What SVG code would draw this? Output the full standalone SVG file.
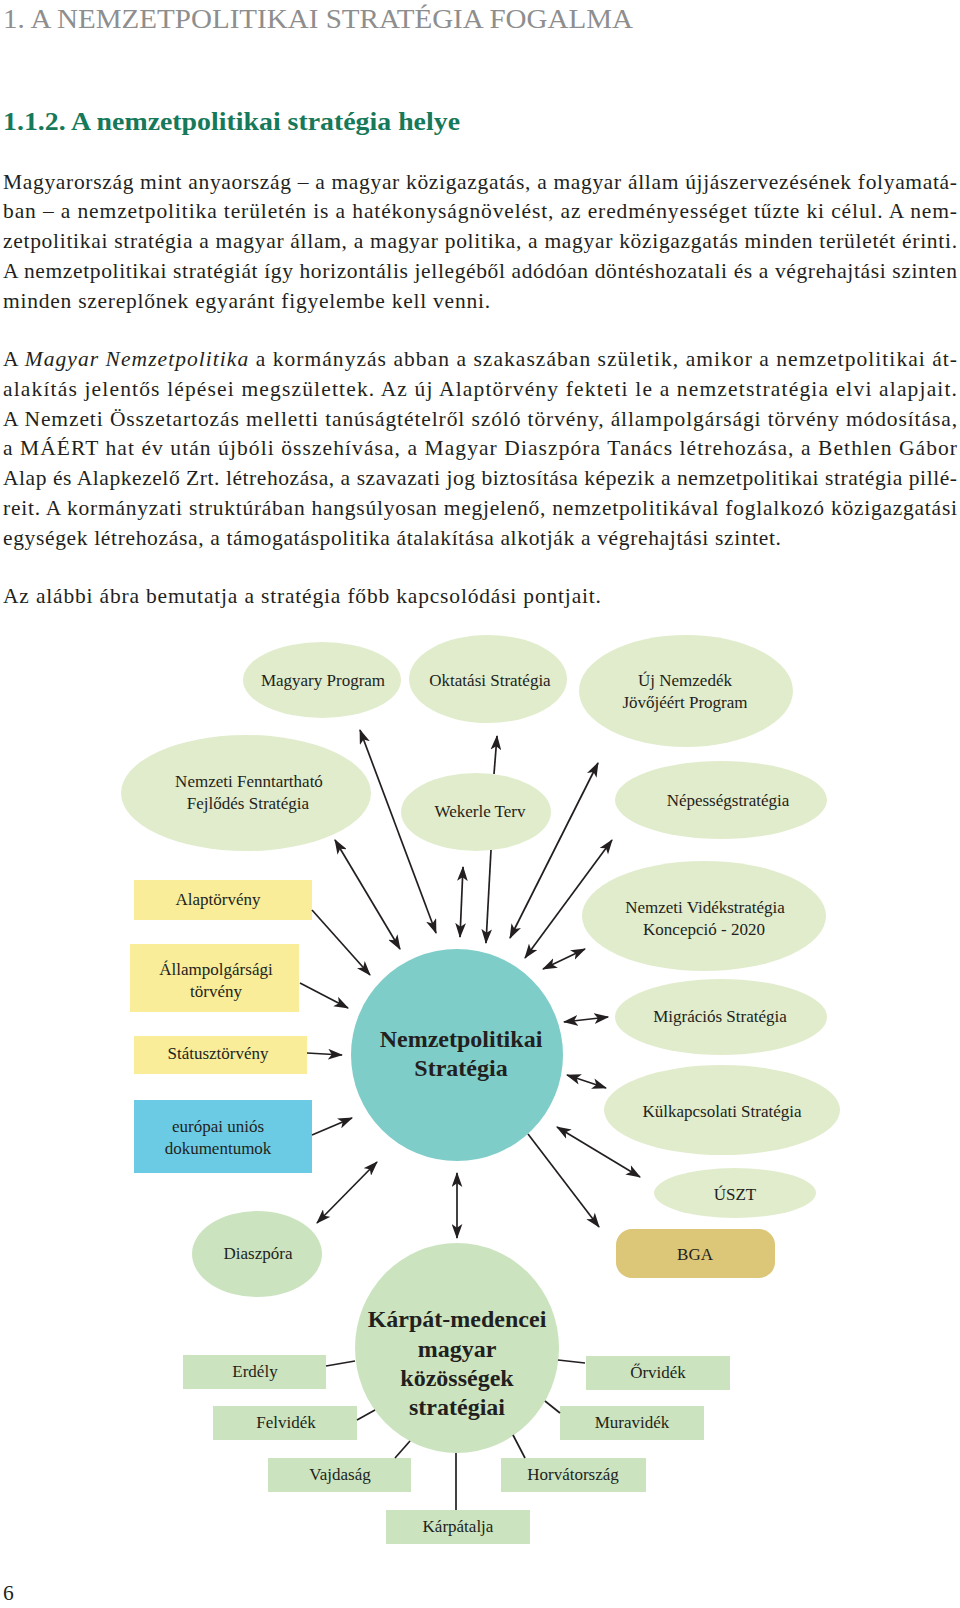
<svg xmlns="http://www.w3.org/2000/svg" width="960" height="1608" viewBox="0 0 960 1608">
<defs>
<marker id="ah" viewBox="0 0 14 10" refX="13" refY="5" markerWidth="15" markerHeight="11" markerUnits="userSpaceOnUse" orient="auto-start-reverse">
<path d="M0,0 L14,5 L0,10 L3.5,5 Z" fill="#231f20"/>
</marker>
</defs>
<style>
text{font-family:"Liberation Serif","Times New Roman",serif;fill:#231f20}
.title{font-size:27px;fill:#8e8e8e}
.head{font-size:25px;font-weight:bold;fill:#16795a}
.body{font-size:21.5px}
.lbl{font-size:17px;text-anchor:middle}
.big{font-size:24px;font-weight:bold;text-anchor:middle}
.pale{fill:#e1eccc}
.green{fill:#cbe4bf}
.yellow{fill:#f9ed99}
.blue{fill:#6ccbe4}
.gold{fill:#dcc677}
.teal{fill:#7fcdc9}
.c line{stroke:#231f20;stroke-width:1.7;fill:none}
.c .a2{marker-start:url(#ah);marker-end:url(#ah)}
.c .a1{marker-end:url(#ah)}
</style>
<rect width="960" height="1608" fill="#ffffff"/>
<g id="page-text">
<text class="title" x="3" y="28" textLength="630" lengthAdjust="spacingAndGlyphs">1. A NEMZETPOLITIKAI STRATÉGIA FOGALMA</text>
<text class="head" x="3" y="130" textLength="457" lengthAdjust="spacingAndGlyphs">1.1.2. A nemzetpolitikai stratégia helye</text>
<text class="body" x="3" y="189" textLength="954" lengthAdjust="spacing">Magyarország mint anyaország – a magyar közigazgatás, a magyar állam újjászervezésének folyamatá-</text>
<text class="body" x="3" y="218" textLength="954" lengthAdjust="spacing">ban – a nemzetpolitika területén is a hatékonyságnövelést, az eredményességet tűzte ki célul. A nem-</text>
<text class="body" x="3" y="248" textLength="954" lengthAdjust="spacing">zetpolitikai stratégia a magyar állam, a magyar politika, a magyar közigazgatás minden területét érinti.</text>
<text class="body" x="3" y="278" textLength="954" lengthAdjust="spacing">A nemzetpolitikai stratégiát így horizontális jellegéből adódóan döntéshozatali és a végrehajtási szinten</text>
<text class="body" x="3" y="308" textLength="487" lengthAdjust="spacing">minden szereplőnek egyaránt figyelembe kell venni.</text>
<text class="body" x="3" y="366" textLength="954" lengthAdjust="spacing">A <tspan font-style="italic">Magyar Nemzetpolitika</tspan> a kormányzás abban a szakaszában születik, amikor a nemzetpolitikai át-</text>
<text class="body" x="3" y="396" textLength="954" lengthAdjust="spacing">alakítás jelentős lépései megszülettek. Az új Alaptörvény fekteti le a nemzetstratégia elvi alapjait.</text>
<text class="body" x="3" y="426" textLength="954" lengthAdjust="spacing">A Nemzeti Összetartozás melletti tanúságtételről szóló törvény, állampolgársági törvény módosítása,</text>
<text class="body" x="3" y="455" textLength="954" lengthAdjust="spacing">a MÁÉRT hat év után újbóli összehívása, a Magyar Diaszpóra Tanács létrehozása, a Bethlen Gábor</text>
<text class="body" x="3" y="485" textLength="954" lengthAdjust="spacing">Alap és Alapkezelő Zrt. létrehozása, a szavazati jog biztosítása képezik a nemzetpolitikai stratégia pillé-</text>
<text class="body" x="3" y="515" textLength="954" lengthAdjust="spacing">reit. A kormányzati struktúrában hangsúlyosan megjelenő, nemzetpolitikával foglalkozó közigazgatási</text>
<text class="body" x="3" y="545" textLength="778" lengthAdjust="spacing">egységek létrehozása, a támogatáspolitika átalakítása alkotják a végrehajtási szintet.</text>
<text class="body" x="3" y="603" textLength="598" lengthAdjust="spacing">Az alábbi ábra bemutatja a stratégia főbb kapcsolódási pontjait.</text>
<text class="body" x="3" y="1600" font-size="22">6</text>
</g>
<g id="magyary"><ellipse class="pale" cx="322" cy="680" rx="79" ry="38"/><text class="lbl" x="323" y="686">Magyary Program</text></g>
<g id="oktatasi"><ellipse class="pale" cx="488" cy="679" rx="79" ry="44"/><text class="lbl" x="490" y="686">Oktatási Stratégia</text></g>
<g id="uj-nemzedek"><ellipse class="pale" cx="686" cy="691" rx="107" ry="56"/><text class="lbl" x="685" y="686">Új Nemzedék</text><text class="lbl" x="685" y="708">Jövőjéért Program</text></g>
<g id="nffs"><ellipse class="pale" cx="246" cy="793" rx="125" ry="58"/><text class="lbl" x="249" y="787">Nemzeti Fenntartható</text><text class="lbl" x="248" y="809">Fejlődés Stratégia</text></g>
<g id="wekerle"><ellipse class="pale" cx="476" cy="812" rx="75" ry="39"/><text class="lbl" x="480" y="817">Wekerle Terv</text></g>
<g id="nepesseg"><ellipse class="pale" cx="721" cy="800" rx="106" ry="39"/><text class="lbl" x="728" y="806">Népességstratégia</text></g>
<g id="videk"><ellipse class="pale" cx="704" cy="916" rx="122" ry="55"/><text class="lbl" x="705" y="913">Nemzeti Vidékstratégia</text><text class="lbl" x="704" y="935">Koncepció - 2020</text></g>
<g id="migracios"><ellipse class="pale" cx="721" cy="1017" rx="106" ry="38"/><text class="lbl" x="720" y="1022">Migrációs Stratégia</text></g>
<g id="kulkapcsolati"><ellipse class="pale" cx="722" cy="1110" rx="118" ry="45"/><text class="lbl" x="722" y="1117">Külkapcsolati Stratégia</text></g>
<g id="uszt"><ellipse class="pale" cx="735" cy="1193" rx="81" ry="25"/><text class="lbl" x="735" y="1200">ÚSZT</text></g>
<g id="bga"><rect class="gold" x="616" y="1229" width="159" height="49" rx="16"/><text class="lbl" x="695" y="1260">BGA</text></g>
<g id="diaszpora"><ellipse class="green" cx="257" cy="1254" rx="65" ry="43"/><text class="lbl" x="258" y="1259">Diaszpóra</text></g>
<g id="alaptorveny"><rect class="yellow" x="134" y="880" width="178" height="40"/><text class="lbl" x="218" y="905">Alaptörvény</text></g>
<g id="allampolgarsagi"><rect class="yellow" x="130" y="944" width="169" height="68"/><text class="lbl" x="216" y="975">Állampolgársági</text><text class="lbl" x="216" y="997">törvény</text></g>
<g id="statusztorveny"><rect class="yellow" x="134" y="1036" width="173" height="38"/><text class="lbl" x="218" y="1059">Státusztörvény</text></g>
<g id="europai"><rect class="blue" x="134" y="1100" width="178" height="73"/><text class="lbl" x="218" y="1132">európai uniós</text><text class="lbl" x="218" y="1154">dokumentumok</text></g>
<g id="nemzetpolitikai"><circle class="teal" cx="457" cy="1055" r="106"/><text class="big" x="461" y="1047">Nemzetpolitikai</text><text class="big" x="461" y="1076">Stratégia</text></g>
<g id="karpat"><ellipse class="green" cx="457" cy="1348" rx="102" ry="105"/><text class="big" x="457" y="1327">Kárpát-medencei</text><text class="big" x="457" y="1357">magyar</text><text class="big" x="457" y="1386">közösségek</text><text class="big" x="457" y="1415">stratégiai</text></g>
<g id="erdely"><rect class="green" x="183" y="1355" width="143" height="34"/><text class="lbl" x="255" y="1377">Erdély</text></g>
<g id="felvidek"><rect class="green" x="213" y="1406" width="144" height="34"/><text class="lbl" x="286" y="1428">Felvidék</text></g>
<g id="vajdasag"><rect class="green" x="268" y="1458" width="143" height="34"/><text class="lbl" x="340" y="1480">Vajdaság</text></g>
<g id="karpatalja"><rect class="green" x="386" y="1510" width="144" height="34"/><text class="lbl" x="458" y="1532">Kárpátalja</text></g>
<g id="horvatorszag"><rect class="green" x="501" y="1458" width="145" height="34"/><text class="lbl" x="573" y="1480">Horvátország</text></g>
<g id="muravidek"><rect class="green" x="560" y="1406" width="144" height="34"/><text class="lbl" x="632" y="1428">Muravidék</text></g>
<g id="orvidek"><rect class="green" x="586" y="1356" width="144" height="34"/><text class="lbl" x="658" y="1378">Őrvidék</text></g>
<g id="connectors" class="c">
<line class="a2" x1="400" y1="949" x2="335" y2="840"/>
<line class="a2" x1="436" y1="933" x2="360" y2="730"/>
<line class="a1" x1="494" y1="774" x2="497" y2="736"/>
<line class="a2" x1="460" y1="937" x2="463" y2="867"/>
<line class="a1" x1="491" y1="850" x2="486" y2="943"/>
<line class="a2" x1="510" y1="938" x2="598" y2="763"/>
<line class="a2" x1="525" y1="958" x2="612" y2="840"/>
<line class="a2" x1="543" y1="969" x2="585" y2="949"/>
<line class="a1" x1="312" y1="910" x2="370" y2="975"/>
<line class="a1" x1="300" y1="983" x2="348" y2="1008"/>
<line class="a1" x1="307" y1="1053" x2="342" y2="1055"/>
<line class="a1" x1="312" y1="1135" x2="352" y2="1118"/>
<line class="a2" x1="377" y1="1162" x2="317" y2="1223"/>
<line class="a2" x1="457" y1="1173" x2="457" y2="1238"/>
<line class="a2" x1="564" y1="1022" x2="608" y2="1017"/>
<line class="a2" x1="567" y1="1075" x2="606" y2="1088"/>
<line class="a2" x1="557" y1="1127" x2="640" y2="1177"/>
<line class="a1" x1="528" y1="1134" x2="599" y2="1227"/>
<line x1="326" y1="1366" x2="355" y2="1361"/>
<line x1="357" y1="1420" x2="375" y2="1410"/>
<line x1="395" y1="1458" x2="410" y2="1441"/>
<line x1="456" y1="1453" x2="456" y2="1510"/>
<line x1="525" y1="1458" x2="513" y2="1435"/>
<line x1="560" y1="1413" x2="545" y2="1401"/>
<line x1="558" y1="1360" x2="585" y2="1363"/>
</g>
</svg>
